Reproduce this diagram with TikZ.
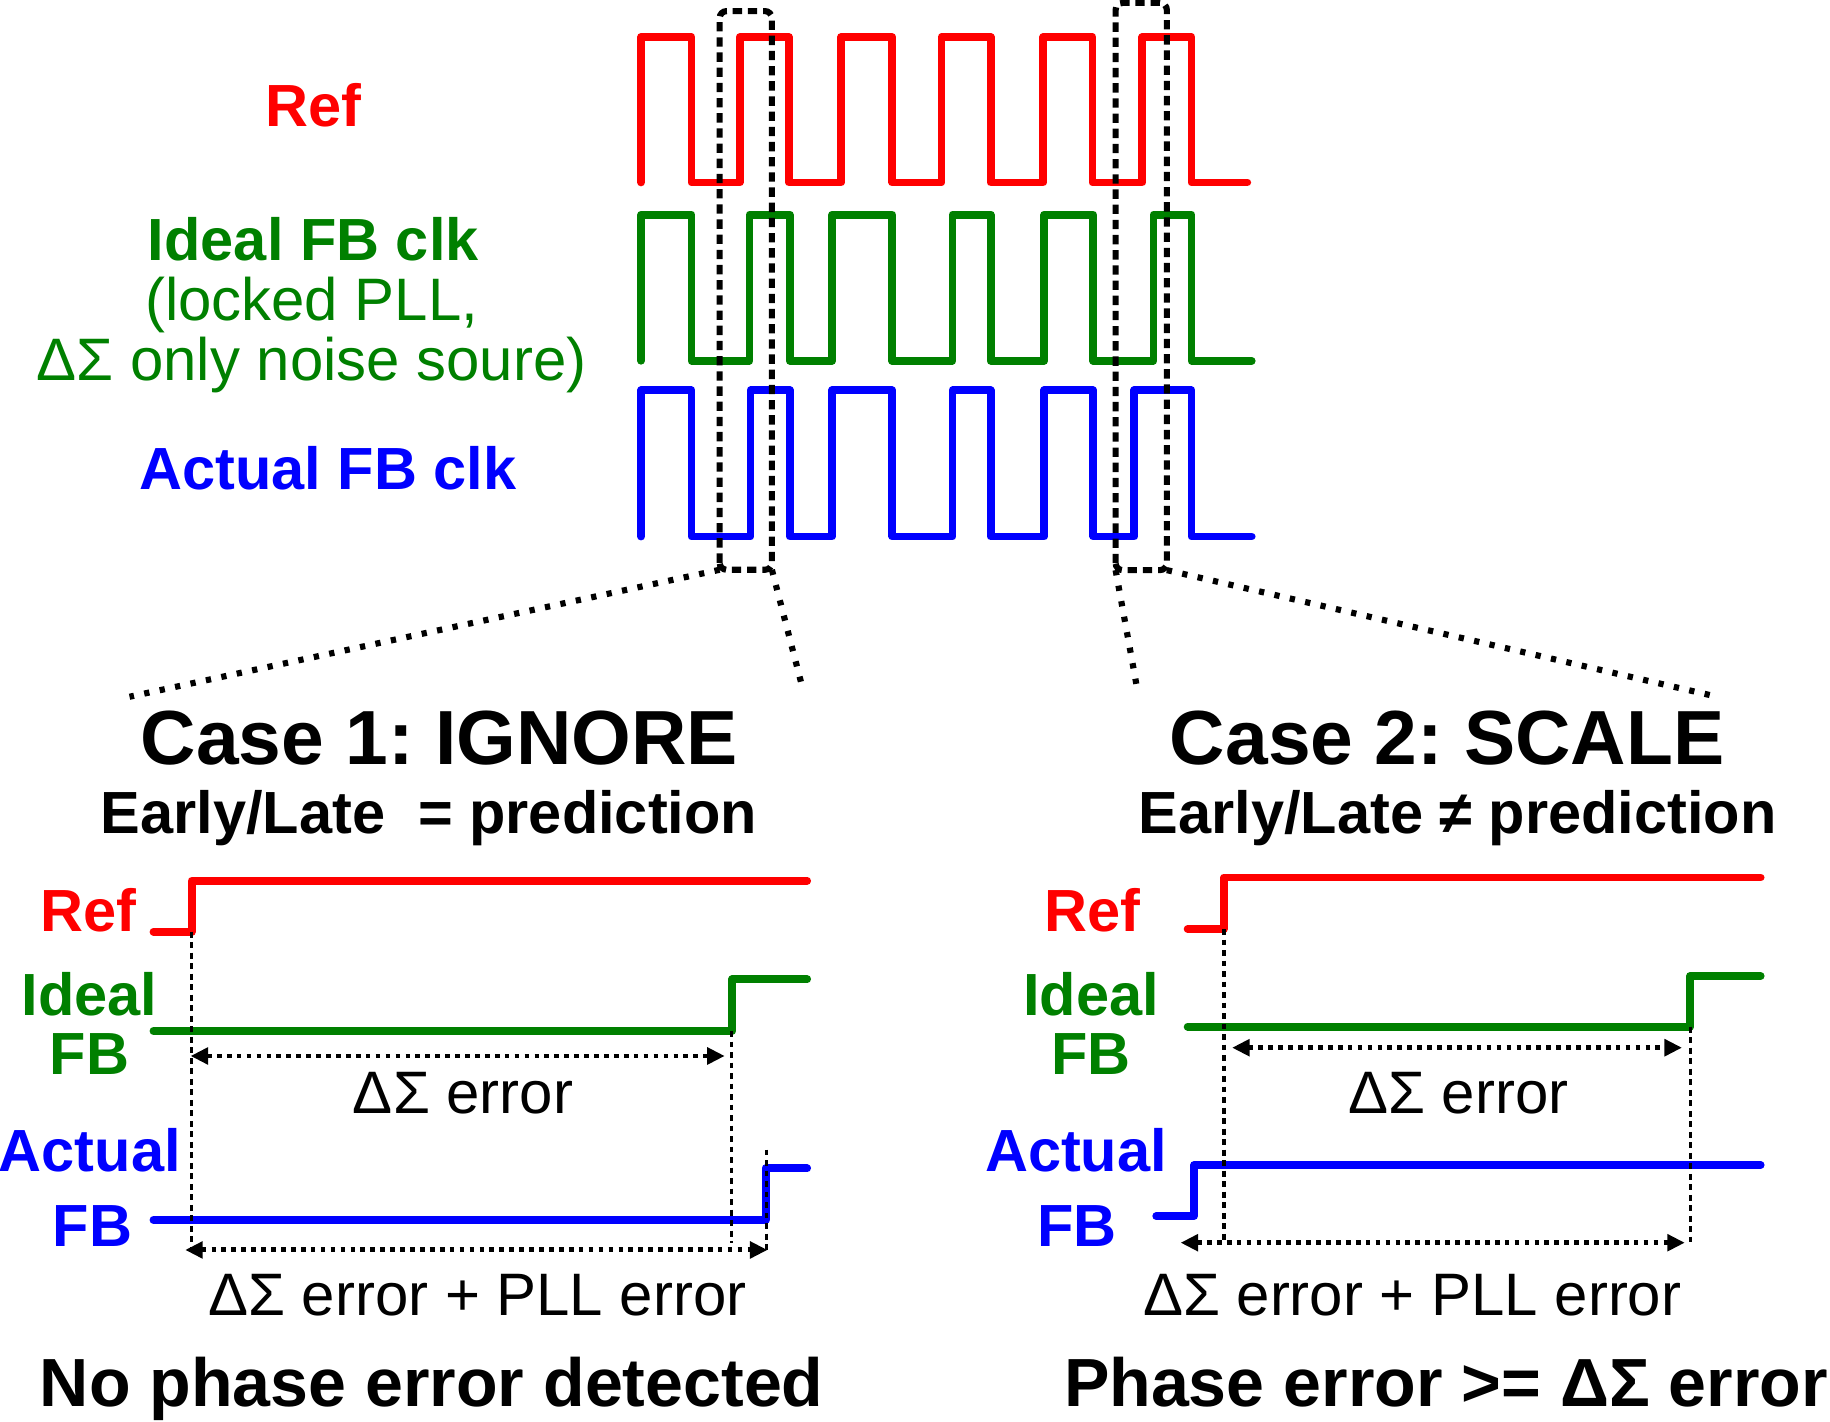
\documentclass[tikz,border=0pt]{standalone}
\usepackage{fontspec}
\setmainfont{Liberation Sans}
\usetikzlibrary{arrows.meta}
\frenchspacing

\definecolor{refred}{RGB}{255,0,0}
\definecolor{fbgreen}{RGB}{0,128,0}
\definecolor{fbblue}{RGB}{0,0,255}

\begin{document}
\begin{tikzpicture}[x=0.01cm, y=-0.01cm,
    wave/.style={line width=1.9pt, line cap=round, line join=round},
    zoombox/.style={line width=1.5pt, dash pattern=on 0.8mm off 0.5mm, rounded corners=0.6mm},
    zoomline/.style={line width=1.5pt, dash pattern=on 0.45mm off 0.9mm},
    edgeline/.style={line width=0.8pt, dash pattern=on 0.5mm off 0.4mm},
    gaparrow/.style={line width=1.2pt, dash pattern=on 0.4mm off 0.45mm,
        {Triangle[length=1.5mm,width=1.4mm]}-{Triangle[length=1.5mm,width=1.4mm]}},
    bold/.style={anchor=base, font=\fontsize{14.5}{17}\selectfont\bfseries},
    plain/.style={anchor=base, font=\fontsize{14.6}{17}\selectfont},
    title/.style={anchor=base, font=\fontsize{18.7}{22}\selectfont\bfseries},
    verdict/.style={anchor=base, font=\fontsize{16.6}{20}\selectfont\bfseries}]

  \useasboundingbox (0,0) rectangle (1568,1218);

  \node[bold, refred] (refTop) at (268.5,108.6) {Ref};
  \node[bold, fbgreen] (idealTop) at (268.5,223.6) {Ideal FB clk};
  \node[plain, fbgreen] (lockedTop) at (267,274.2) {(locked PLL,};
  \node[plain, fbgreen] (noiseTop) at (267,326.2) {ΔΣ only noise soure)};
  \node[bold, fbblue] (actualTop) at (281,419.3) {Actual FB clk};

  \draw[wave, refred] (549.3,156.3) |- (592.5,31.7) |- (633.8,156.3) |- (675.9,31.7)
    |- (720.7,156.3) |- (764.6,31.7) |- (806.7,156.3) |- (848.8,31.7) |- (893.9,156.3)
    |- (936,31.7) |- (978.8,156.3) |- (1020.9,31.7) |- (1068.7,156.3);
  \draw[wave, fbgreen] (549.3,309.1) |- (592.5,183.9) |- (642.2,309.1) |- (676.7,183.9)
    |- (713,309.1) |- (764.6,183.9) |- (816.2,309.1) |- (848.8,183.9) |- (894.7,309.1)
    |- (936.8,183.9) |- (988.4,309.1) |- (1020.9,183.9) |- (1072.5,309.1);
  \draw[wave, fbblue] (549.3,459.7) |- (592.5,334.5) |- (643,459.7) |- (676.7,334.5)
    |- (713,459.7) |- (764.6,334.5) |- (816.2,459.7) |- (848.8,334.5) |- (894.7,459.7)
    |- (936.8,334.5) |- (971.9,459.7) |- (1020.9,334.5) |- (1072.5,459.7);

  \coordinate (z1sw) at (616.6,488.2);
  \coordinate (z1se) at (661.4,488.2);
  \coordinate (z1ne) at (661.4,9.5);
  \coordinate (z2sw) at (955.9,488.5);
  \coordinate (z2se) at (999.8,488.5);
  \coordinate (z2ne) at (999.8,2.5);
  \draw[zoombox] (z1sw) rectangle (z1ne);
  \draw[zoombox] (z2sw) rectangle (z2ne);

  \coordinate (c1l) at (111,597);
  \coordinate (c1r) at (687,587);
  \coordinate (c2l) at (974,588);
  \coordinate (c2r) at (1467,596);
  \draw[zoomline] (z1sw) -- (c1l);
  \draw[zoomline] (z1se) -- (c1r);
  \draw[zoomline] (z2sw) -- (c2l);
  \draw[zoomline] (z2se) -- (c2r);

  \node[title] (caseOne) at (376.5,655) {Case 1: IGNORE};
  \node[bold] (ruleOne) at (367.5,714) {Early/Late\ \ = prediction};
  \node[title] (caseTwo) at (1240,655) {Case 2: SCALE};
  \node[bold] (ruleTwo) at (1249,714) {Early/Late ≠ prediction};

  \node[bold, refred] (refOne) at (75.5,798.3) {Ref};
  \node[bold, fbgreen] (idealOne) at (76.6,869.7) {Ideal};
  \node[bold, fbgreen] (fbOne) at (76.7,921) {FB};
  \node[bold, fbblue] (actualOne) at (77,1004) {Actual};
  \node[bold, fbblue] (afbOne) at (79.3,1068) {FB};

  \coordinate (r1) at (164.2,798.3);
  \coordinate (g1) at (626.5,883.4);
  \coordinate (a1) at (657,985);
  \draw[wave, refred] (131.5,798.3) -| (164.2,754.6) -- (691.6,754.6);
  \draw[wave, fbgreen] (131.5,883.4) -| (627.5,839.1) -- (691.6,839.1);
  \draw[wave, fbblue] (131.5,1045.3) -| (656,1001.1) -- (691.6,1001.1);
  \draw[edgeline] (r1) -- (r1 |- 0,1071);
  \draw[edgeline] (g1) -- (g1 |- 0,1065);
  \draw[edgeline] (a1) -- (a1 |- 0,1071);

  \coordinate (d1a) at (163.3,904.8);
  \coordinate (d1b) at (621,904.8);
  \coordinate (e1a) at (158.7,1071);
  \coordinate (e1b) at (657.6,1071);
  \draw[gaparrow] (d1a) -- (d1b);
  \draw[gaparrow] (e1a) -- (e1b);
  \node[plain] (dsOne) at (396.8,954.5) {ΔΣ error};
  \node[plain] (sumOne) at (409,1127) {ΔΣ error + PLL error};
  \node[verdict] (verdictOne) at (370,1205.3) {No phase error detected};

  \node[bold, refred] (refTwo) at (936,798.3) {Ref};
  \node[bold, fbgreen] (idealTwo) at (935,869.7) {Ideal};
  \node[bold, fbgreen] (fbTwo) at (935,921) {FB};
  \node[bold, fbblue] (actualTwo) at (922,1004) {Actual};
  \node[bold, fbblue] (afbTwo) at (923,1068) {FB};

  \coordinate (r2) at (1048.7,796);
  \coordinate (g2) at (1448.2,879.7);
  \draw[wave, refred] (1017.6,796) -| (1048.7,751.8) -- (1508.6,751.8);
  \draw[wave, fbgreen] (1017.6,879.7) -| (1448.2,836.3) -- (1508.6,836.3);
  \draw[wave, fbblue] (990.7,1042) -| (1023.2,998.2) -- (1508.6,998.2);
  \draw[edgeline] (r2) -- (r2 |- 0,1064);
  \draw[edgeline] (g2) -- (g2 |- 0,1064);

  \coordinate (d2a) at (1055.7,897.7);
  \coordinate (d2b) at (1441.2,897.7);
  \coordinate (e2a) at (1011.6,1064.8);
  \coordinate (e2b) at (1443.6,1064.8);
  \draw[gaparrow] (d2a) -- (d2b);
  \draw[gaparrow] (e2a) -- (e2b);
  \node[plain] (dsTwo) at (1249.6,954.5) {ΔΣ error};
  \node[plain] (sumTwo) at (1210,1127) {ΔΣ error + PLL error};
  \node[verdict] (verdictTwo) at (1239,1205.3) {Phase error >= ΔΣ error};

\end{tikzpicture}
\end{document}
